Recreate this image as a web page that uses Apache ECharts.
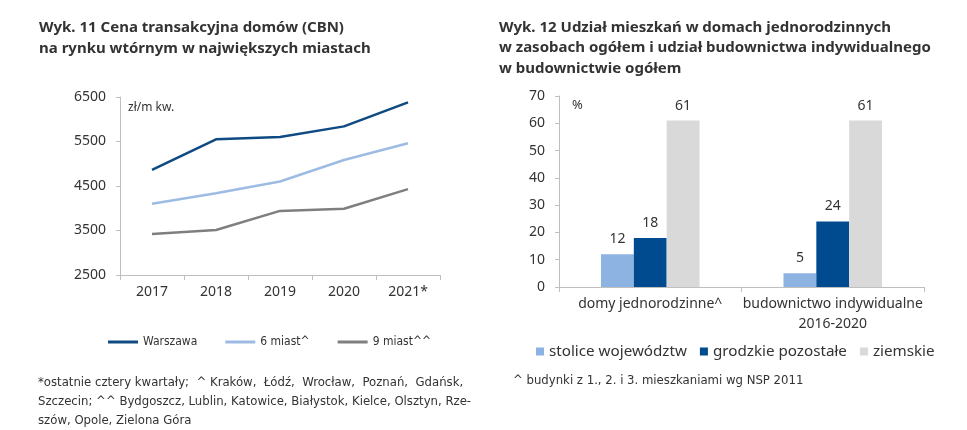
<!DOCTYPE html>
<html><head><meta charset="utf-8">
<script src="https://cdn.jsdelivr.net/npm/echarts@6/dist/echarts.min.js"></script>
<style>html,body{margin:0;padding:0;background:#fff}#c{width:967px;height:430px}</style>
</head><body><div id="c"></div>
<script>
// Left chart data
const years = ['2017', '2018', '2019', '2020', '2021*'];
const warszawa = [4860, 5550, 5600, 5840, 6380];
const miast6 = [4100, 4335, 4600, 5085, 5460];
const miast9 = [3420, 3510, 3940, 3990, 4430];
const leftTicks = [2500, 3500, 4500, 5500, 6500];
// Right chart data
const groups = ['domy jednorodzinne^', 'budownictwo indywidualne\n2016-2020'];
const stolice = [12, 5];
const grodzkie = [18, 24];
const ziemskie = [61, 61];

const FONT = 'Noto Sans';
const NARROW = '"DejaVu Sans Condensed", "Noto Sans", sans-serif';
const TXT = '#333333';
const AX = '#bfbfbf';
const chart = echarts.init(document.getElementById('c'));
const lineSeries = (name, data, color) => ({
  name, type: 'line', data, xAxisIndex: 0, yAxisIndex: 0,
  symbol: 'none', lineStyle: { color, width: 2.5 }, itemStyle: { color }
});
const barSeries = (name, data, color) => ({
  name, type: 'bar', data, xAxisIndex: 1, yAxisIndex: 1,
  barGap: '0%', barCategoryGap: '46%', itemStyle: { color },
  label: { show: true, position: 'top', color: TXT, fontFamily: FONT, fontSize: 14, distance: 8 }
});
chart.setOption({
  animation: false,
  textStyle: { fontFamily: FONT },
  graphic: [
    { type: 'text', left: 39, top: 17, style: { text: 'Wyk. 11 Cena transakcyjna domów (CBN)\nna rynku wtórnym w największych miastach', font: 'bold 15px "Noto Sans"', fill: '#333', lineHeight: 21 } },
    { type: 'text', left: 499, top: 17, style: { text: 'Wyk. 12 Udział mieszkań w domach jednorodzinnych\nw zasobach ogółem i udział budownictwa indywidualnego\nw budownictwie ogółem', font: 'bold 15px "Noto Sans"', fill: '#333', lineHeight: 20.5 } },
    { type: 'text', left: 128, top: 102, style: { text: 'zł/m kw.', font: '12px "Noto Sans"', fill: '#333' } },
    { type: 'text', left: 572, top: 99, style: { text: '%', font: '13px "Noto Sans"', fill: '#333' } },
    { type: 'text', left: 38, top: 373, style: { text: '*ostatnie cztery kwartały;  ^ Kraków,  Łódź,  Wrocław,  Poznań,  Gdańsk,\nSzczecin; ^^ Bydgoszcz, Lublin, Katowice, Białystok, Kielce, Olsztyn, Rze-\nszów, Opole, Zielona Góra', font: '13px ' + NARROW, fill: '#333', lineHeight: 19 } },
    { type: 'text', left: 513, top: 374, style: { text: '^ budynki z 1., 2. i 3. mieszkaniami wg NSP 2011', font: '13px ' + NARROW, fill: '#333' } }
  ],
  legend: [
    { data: ['Warszawa', '6 miast^', '9 miast^^'], left: 103, top: 331, icon: 'rect', itemWidth: 30, itemHeight: 3, itemGap: 28,
      textStyle: { fontFamily: NARROW, fontSize: 12, color: TXT } },
    { data: ['stolice województw', 'grodzkie pozostałe', 'ziemskie'], left: 531, top: 339, icon: 'rect', itemWidth: 8, itemHeight: 8, itemGap: 13,
      textStyle: { fontFamily: FONT, fontSize: 15.2, color: TXT } }
  ],
  grid: [
    { left: 120, right: 527, top: 97, bottom: 155 },
    { left: 559, right: 43, top: 96, bottom: 143 }
  ],
  xAxis: [
    { type: 'category', gridIndex: 0, data: years, boundaryGap: true,
      axisLine: { lineStyle: { color: AX } }, axisTick: { show: true, length: 5, lineStyle: { color: AX } },
      axisLabel: { color: TXT, fontSize: 14, margin: 10 } },
    { type: 'category', gridIndex: 1, data: groups, boundaryGap: true,
      axisLine: { lineStyle: { color: AX } }, axisTick: { show: true, length: 5, lineStyle: { color: AX } },
      axisLabel: { color: TXT, fontSize: 14, margin: 7, lineHeight: 20, interval: 0 } }
  ],
  yAxis: [
    { type: 'value', gridIndex: 0, min: leftTicks[0], max: leftTicks[leftTicks.length - 1], interval: 1000,
      axisLine: { show: true, lineStyle: { color: AX } }, axisTick: { show: true, length: 4, lineStyle: { color: AX } },
      splitLine: { show: false }, axisLabel: { color: TXT, fontSize: 14, margin: 14, formatter: v => String(v) } },
    { type: 'value', gridIndex: 1, min: 0, max: 70, interval: 10,
      axisLine: { show: true, lineStyle: { color: AX } }, axisTick: { show: true, length: 4, lineStyle: { color: AX } },
      splitLine: { show: false }, axisLabel: { color: TXT, fontSize: 14, margin: 14 } }
  ],
  series: [
    lineSeries('Warszawa', warszawa, '#0f4b82'),
    lineSeries('6 miast^', miast6, '#9dbbe3'),
    lineSeries('9 miast^^', miast9, '#7f7f7f'),
    barSeries('stolice województw', stolice, '#8db3e2'),
    barSeries('grodzkie pozostałe', grodzkie, '#004a8f'),
    barSeries('ziemskie', ziemskie, '#d9d9d9')
  ]
});
</script></body></html>
